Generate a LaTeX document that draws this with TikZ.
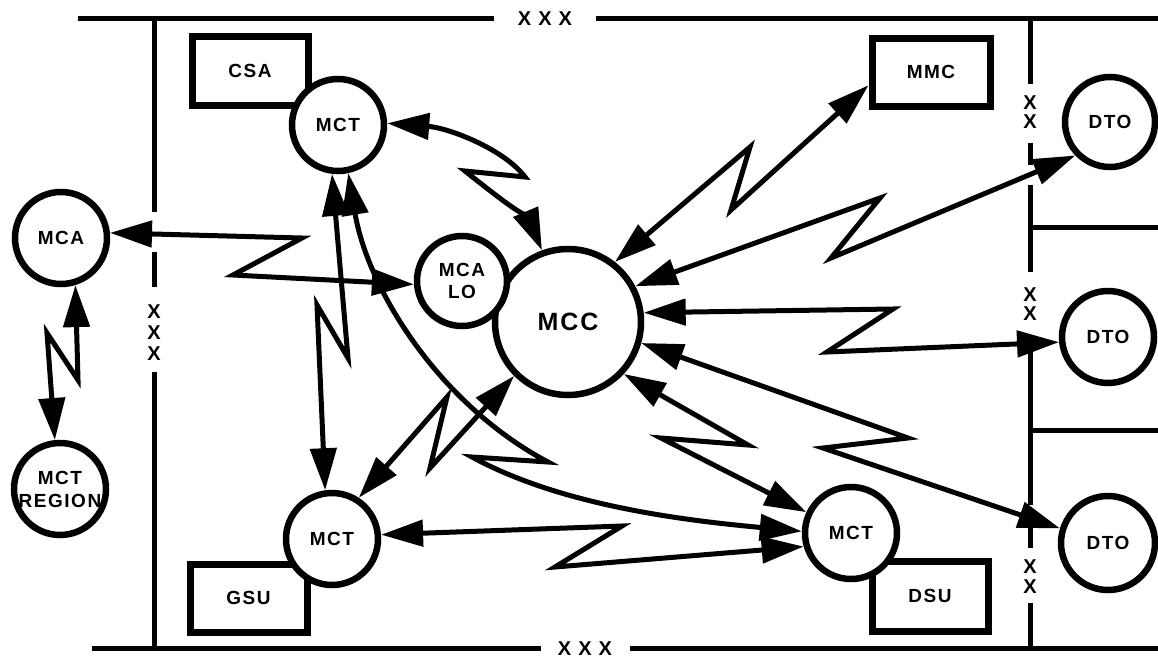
\documentclass[tikz,border=0pt]{standalone}
\usepackage{fontspec}
\setmainfont{Liberation Sans}[LetterSpace=8]
\usetikzlibrary{arrows.meta}
\begin{document}
\begin{tikzpicture}[x=1pt,y=-1pt,
  lab/.style={font=\fontsize{19}{22}\selectfont\bfseries},
  circ/.style={circle,draw,line width=6.5pt,fill=white,inner sep=0pt,align=center,lab},
  box/.style={rectangle,draw,line width=7pt,fill=white,inner sep=0pt,lab},
  link/.style={line width=5pt,line join=miter,{Triangle[length=42pt,width=26pt]}-{Triangle[length=42pt,width=26pt]}},
  frame/.style={line width=5pt},
  xmark/.style={font=\fontsize{20}{20}\selectfont\bfseries,inner sep=0pt}]
\useasboundingbox (0,0) rectangle (1158,659);
% frame lines
\draw[frame] (78,18) -- (494,18);
\node[xmark] (xtop) at (545,19) {X\hspace{7pt}X\hspace{7pt}X};
\draw[frame] (596,18) -- (1158,18);
\draw[frame] (92,648) -- (541,648);
\node[xmark] (xbot) at (585,649) {X\hspace{7pt}X\hspace{7pt}X};
\draw[frame] (630,648) -- (1158,648);
% left boundary
\draw[frame] (154,18) -- (154,212);
\draw[frame] (154,252) -- (154,287);
\node[xmark] (xl1) at (154,312) {X};
\node[xmark] (xl2) at (154,333) {X};
\node[xmark] (xl3) at (154,354) {X};
\draw[frame] (154,372) -- (154,648);
% right boundary
\draw[frame] (1030,18) -- (1030,84);
\node[xmark] (xr1) at (1030,103) {X};
\node[xmark] (xr2) at (1030,122) {X};
\draw[frame] (1030,143) -- (1030,165);
\draw[frame] (1030,185) -- (1030,272);
\node[xmark] (xr3) at (1030,295) {X};
\node[xmark] (xr4) at (1030,314) {X};
\draw[frame] (1030,352) -- (1030,505);
\draw[frame] (1030,520) -- (1030,548);
\node[xmark] (xr5) at (1030,567) {X};
\node[xmark] (xr6) at (1030,587) {X};
\draw[frame] (1030,603) -- (1030,648);
\draw[frame] (1030,227) -- (1158,227);
\draw[frame] (1030,430) -- (1158,430);
% boxes
\node[box,minimum width=116pt,minimum height=69pt] (csa) at (250,70.5) {CSA};
\node[box,minimum width=118pt,minimum height=68pt] (mmc) at (931,72) {MMC};
\node[box,minimum width=117pt,minimum height=68pt] (gsu) at (248.5,598) {GSU};
\node[box,minimum width=116pt,minimum height=70pt] (dsu) at (930,596) {DSU};
% circles
\node[circ,minimum size=92pt] (mct1) at (338,125) {MCT};
\node[circ,minimum size=92pt] (mca) at (61,238) {MCA};
\node[circ,minimum size=146pt,font=\fontsize{25}{27}\selectfont\bfseries] (mcc) at (568,322) {MCC};
\node[circ,minimum size=90pt] (mcalo) at (462,281) {MCA\\LO};
\node[circ,minimum size=90pt] (dto1) at (1110,122) {DTO};
\node[circ,minimum size=92pt] (dto2) at (1108,337) {DTO};
\node[circ,minimum size=94pt] (dto3) at (1108,543) {DTO};
\node[circ,minimum size=92pt,font=\fontsize{19}{23}\selectfont\bfseries] (mctr) at (60,489) {MCT\\REGION};
\node[circ,minimum size=92pt] (mct2) at (332,539) {MCT};
\node[circ,minimum size=92pt] (mct3) at (851,533) {MCT};
% links
\draw[link] (mct1.2) .. controls (450,128) and (505,150) .. (525,177) -- (465,171) .. controls (495,195) and (530,222) .. (mcc.110);
\draw[link] (mmc.192) -- (731,210) -- (750,147) -- (mcc.52);
\draw[link] (dto1.224) -- (831,258) -- (880,198) -- (mcc.28);
\draw[link] (mcc.7) -- (893,309) -- (827,352) -- (dto2.186);
\draw[link] (mcc.-16) -- (908,438) -- (823,448) -- (dto3.163);
\draw[link] (mcc.-43) -- (748,445) -- (661,438) -- (mct3.155);
\draw[link] (mct2.5) -- (622,526) -- (555,567) -- (mct3.196);
\draw[link] (mct1.-78) .. controls (368,290) and (440,405) .. (548,462) -- (472,457) .. controls (560,505) and (680,520) .. (mct3.178);
\draw[link] (mct1.-97) -- (348,358) -- (317,305) -- (mct2.98);
\draw[link] (mcc.-135) -- (430,468) -- (447,397) -- (mct2.57);
\draw[link] (mca.6) -- (302,238) -- (233,275) -- (mcalo.184);
\draw[link] (mca.-73) -- (78,380) -- (47,333) -- (mctr.96);
\end{tikzpicture}
\end{document}
